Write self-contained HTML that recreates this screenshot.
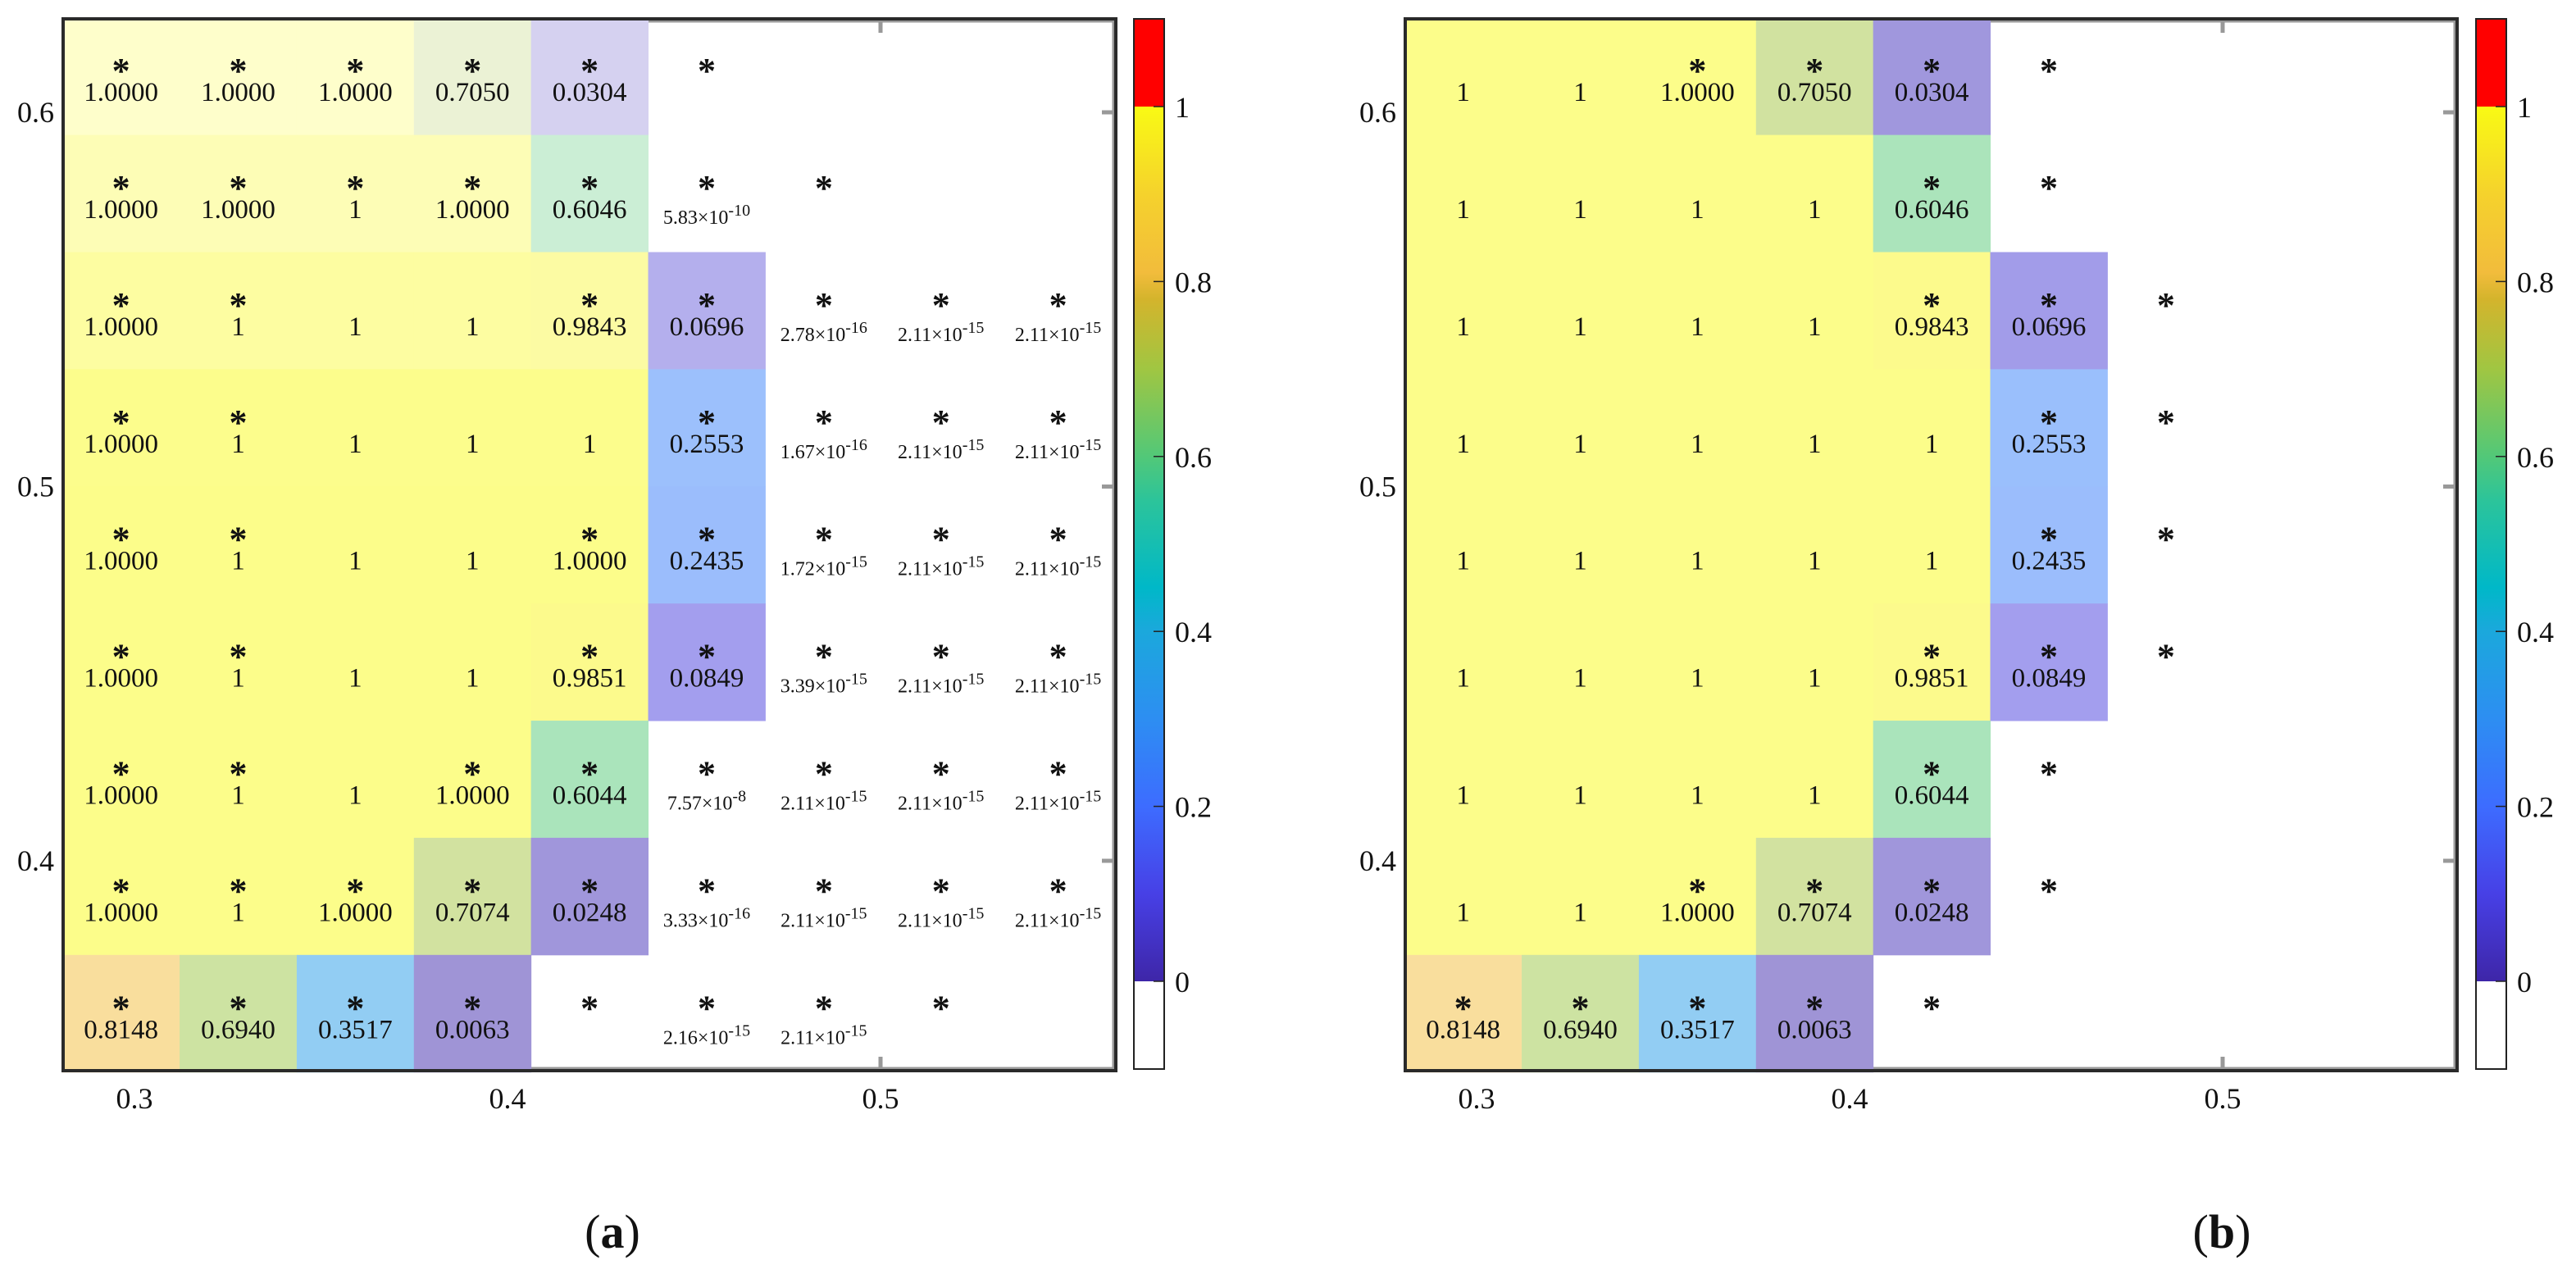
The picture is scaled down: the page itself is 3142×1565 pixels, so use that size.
<!DOCTYPE html>
<html><head><meta charset="utf-8"><style>
html,body{margin:0;padding:0;background:#fff;}
svg{display:block;}
text{font-family:"Liberation Serif","DejaVu Serif",serif;fill:#111;}
</style></head>
<body>
<svg id="fig" xmlns="http://www.w3.org/2000/svg" width="3142" height="1565" viewBox="0 0 3142 1565"></svg>
<script>
// ---- data ----
const xTicks = [0.3, 0.4, 0.5];
const yTicks = [0.4, 0.5, 0.6];
const cbTicks = [0, 0.2, 0.4, 0.6, 0.8, 1];
const cbTickLabels = ["0", "0.2", "0.4", "0.6", "0.8", "1"];
// panel (a): values (null = no cell), labels, stars; rows top (y high) to bottom
const valuesA = [
 [1,1,1,0.7050,0.0304,-1,null,null,null],
 [1,1,1,1,0.6046,5.83e-10,-1,null,null],
 [1,1,1,1,0.9843,0.0696,2.78e-16,2.11e-15,2.11e-15],
 [1,1,1,1,1,0.2553,1.67e-16,2.11e-15,2.11e-15],
 [1,1,1,1,1,0.2435,1.72e-15,2.11e-15,2.11e-15],
 [1,1,1,1,0.9851,0.0849,3.39e-15,2.11e-15,2.11e-15],
 [1,1,1,1,0.6044,7.57e-8,2.11e-15,2.11e-15,2.11e-15],
 [1,1,1,0.7074,0.0248,3.33e-16,2.11e-15,2.11e-15,2.11e-15],
 [0.8148,0.6940,0.3517,0.0063,-1,2.16e-15,2.11e-15,-1,null]
];
const labelsA = [
 ["1.0000","1.0000","1.0000","0.7050","0.0304","","","",""],
 ["1.0000","1.0000","1","1.0000","0.6046","5.83|-10","","",""],
 ["1.0000","1","1","1","0.9843","0.0696","2.78|-16","2.11|-15","2.11|-15"],
 ["1.0000","1","1","1","1","0.2553","1.67|-16","2.11|-15","2.11|-15"],
 ["1.0000","1","1","1","1.0000","0.2435","1.72|-15","2.11|-15","2.11|-15"],
 ["1.0000","1","1","1","0.9851","0.0849","3.39|-15","2.11|-15","2.11|-15"],
 ["1.0000","1","1","1.0000","0.6044","7.57|-8","2.11|-15","2.11|-15","2.11|-15"],
 ["1.0000","1","1.0000","0.7074","0.0248","3.33|-16","2.11|-15","2.11|-15","2.11|-15"],
 ["0.8148","0.6940","0.3517","0.0063","","2.16|-15","2.11|-15","",""]
];
const starsA = [
 [1,1,1,1,1,1,0,0,0],
 [1,1,1,1,1,1,1,0,0],
 [1,1,0,0,1,1,1,1,1],
 [1,1,0,0,0,1,1,1,1],
 [1,1,0,0,1,1,1,1,1],
 [1,1,0,0,1,1,1,1,1],
 [1,1,0,1,1,1,1,1,1],
 [1,1,1,1,1,1,1,1,1],
 [1,1,1,1,1,1,1,1,0]
];
const valuesB = [
 [1,1,1,0.7050,0.0304,-1,null,null,null],
 [1,1,1,1,0.6046,-1,null,null,null],
 [1,1,1,1,0.9843,0.0696,-1,null,null],
 [1,1,1,1,1,0.2553,-1,null,null],
 [1,1,1,1,1,0.2435,-1,null,null],
 [1,1,1,1,0.9851,0.0849,-1,null,null],
 [1,1,1,1,0.6044,-1,null,null,null],
 [1,1,1,0.7074,0.0248,-1,null,null,null],
 [0.8148,0.6940,0.3517,0.0063,-1,null,null,null,null]
];
const labelsB = [
 ["1","1","1.0000","0.7050","0.0304","","","",""],
 ["1","1","1","1","0.6046","","","",""],
 ["1","1","1","1","0.9843","0.0696","","",""],
 ["1","1","1","1","1","0.2553","","",""],
 ["1","1","1","1","1","0.2435","","",""],
 ["1","1","1","1","0.9851","0.0849","","",""],
 ["1","1","1","1","0.6044","","","",""],
 ["1","1","1.0000","0.7074","0.0248","","","",""],
 ["0.8148","0.6940","0.3517","0.0063","","","","",""]
];
const starsB = [
 [0,0,1,1,1,1,0,0,0],
 [0,0,0,0,1,1,0,0,0],
 [0,0,0,0,1,1,1,0,0],
 [0,0,0,0,0,1,1,0,0],
 [0,0,0,0,0,1,1,0,0],
 [0,0,0,0,1,1,1,0,0],
 [0,0,0,0,1,1,0,0,0],
 [0,0,1,1,1,1,0,0,0],
 [1,1,1,1,1,0,0,0,0]
];
const xCenters = [0.2964,0.3278,0.3592,0.3906,0.4220,0.4534,0.4848,0.5162,0.5476];
const yCenters = [0.6096,0.5783,0.5470,0.5157,0.4844,0.4531,0.4218,0.3905,0.3592];
const cmapStops = [0,0.1,0.2,0.3,0.4,0.45,0.55,0.6,0.7,0.78,0.81,0.9,1];
const cmapColors = [[62,38,168],[71,64,230],[61,108,255],[45,142,242],[27,168,220],[0,184,200],[44,196,154],[82,200,120],[160,198,66],[212,180,44],[242,188,60],[245,210,44],[249,250,20]];

const NS="http://www.w3.org/2000/svg";
const svg=document.getElementById('fig');
function mk(tag,attrs,parent){const e=document.createElementNS(NS,tag);for(const k in attrs)e.setAttribute(k,attrs[k]);(parent||svg).appendChild(e);return e;}
function cmap(v){
  if(v<=0)return cmapColors[0];
  if(v>=1)return cmapColors[cmapColors.length-1];
  for(let i=0;i<cmapStops.length-1;i++){
    if(v>=cmapStops[i]&&v<=cmapStops[i+1]){const t=(v-cmapStops[i])/(cmapStops[i+1]-cmapStops[i]);
      return cmapColors[i].map((c,j)=>Math.round(c+(cmapColors[i+1][j]-c)*t));}
  }
}
function blend(c,a){return 'rgb('+c.map(x=>Math.round(x*a+255*(1-a))).join(',')+')';}

function panel(cfg){
  const {x0,x1,y0,y1,vals,labs,stars,name,cbx,capx,cap,fade}=cfg;
  const W=x1-x0;
  const xmin=0.3-(88/4550), xmax=xmin+W/4550;
  const ymax=0.6+(137-22)/4565, ymin=ymax-(y1-y0)/4565;
  const sx=v=>x0+(v-xmin)/(xmax-xmin)*W;
  const sy=v=>y0+(ymax-v)/(ymax-ymin)*(y1-y0);
  const cw=(xCenters[1]-xCenters[0])/(xmax-xmin)*W;
  const ch=(yCenters[0]-yCenters[1])/(ymax-ymin)*(y1-y0);
  const g=mk('g',{});
  
  
  const fr=mk('rect',{x:x0+3,y:y0+3,width:W-6,height:y1-y0-6,fill:'#fff',stroke:'#999',"stroke-width":5},g);
  
  
  xTicks.forEach(t=>{
    const px=sx(t);
    const a=mk('line',{x1:px,y1:y0+4,x2:px,y2:y0+18,stroke:'#999','stroke-width':5},g);
    
    
    const b=mk('line',{x1:px,y1:y1-4,x2:px,y2:y1-18,stroke:'#999','stroke-width':5},g);
    
    
    const tl=mk('text',{x:px,y:y1+45,'font-size':36,'text-anchor':'middle'},g);
    tl.textContent=String(t);
    
    
  });
  yTicks.forEach(t=>{
    const py=sy(t);
    const a=mk('line',{x1:x0+4,y1:py,x2:x0+18,y2:py,stroke:'#999','stroke-width':5},g);
    
    
    const b=mk('line',{x1:x1-4,y1:py,x2:x1-18,y2:py,stroke:'#999','stroke-width':5},g);
    
    
    const tl=mk('text',{x:x0-10,y:py+12,'font-size':36,'text-anchor':'end'},g);
    tl.textContent=String(t);
    
    
  });
  for(let r=0;r<vals.length;r++){
    for(let c=0;c<vals[r].length;c++){
      const v=vals[r][c]; if(v===null)continue;
      const cx=sx(xCenters[c]), cy=sy(yCenters[r]);
      if(v>=1e-6){
        const a=fade?Math.min(0.5,0.22+0.09*r):0.5;
        const rc=mk('rect',{x:cx-cw/2,y:cy-ch/2,width:cw+0.5,height:ch+0.5,fill:blend(cmap(v),a)},g);
        
        
      }
      if(stars[r][c]){
        const st=mk('text',{x:cx,y:cy+8,'font-size':44,'text-anchor':'middle','font-weight':'bold'},g);
        st.textContent='*';
        
        
      }
      const L=labs[r][c];
      if(L){
        if(L.indexOf('|')>=0){
          const [m,e]=L.split('|');
          const t=mk('text',{x:cx,y:cy+37,'font-size':24,'text-anchor':'middle'},g);
          
          
          const s1=mk('tspan',{},t); s1.textContent=m+'\u00d710';
          const s2=mk('tspan',{dy:-10,'font-size':20},t); s2.textContent=e;
        } else {
          const t=mk('text',{x:cx,y:cy+30,'font-size':33,'text-anchor':'middle'},g);
          t.textContent=L;
          
          
        }
      }
    }
  }
  const bd=mk('rect',{x:x0+1,y:y0+1,width:W-2,height:y1-y0-2,fill:'none',stroke:'#2a2a2a','stroke-width':4},g);
  
  
  const cbTop=23, cb1=130, cb0=1197, cbBot=1304, cbw=37;
  const cv=v=>cb0-(cb0-cb1)*v;
  const cg=mk('g',{},g);
  
  
  const gid='grad'+name;
  const defs=mk('defs',{},cg);
  const lg=mk('linearGradient',{id:gid,x1:0,y1:1,x2:0,y2:0},defs);
  cmapStops.forEach((s,i)=>mk('stop',{offset:s,'stop-color':'rgb('+cmapColors[i].join(',')+')'},lg));
  mk('rect',{x:cbx,y:cbTop,width:cbw,height:cb1-cbTop,fill:'#ff0000'},cg);
  mk('rect',{x:cbx,y:cb1,width:cbw,height:cb0-cb1,fill:'url(#'+gid+')'},cg);
  mk('rect',{x:cbx,y:cb0,width:cbw,height:cbBot-cb0,fill:'#fff'},cg);
  mk('rect',{x:cbx,y:cbTop,width:cbw,height:cbBot-cbTop,fill:'none',stroke:'#222','stroke-width':2},cg);
  cbTicks.forEach((t,i)=>{
    const py=cv(t);
    mk('line',{x1:cbx+cbw-13,y1:py,x2:cbx+cbw,y2:py,stroke:'#222','stroke-width':1.5},cg);
    const tl=mk('text',{x:cbx+cbw+13,y:py+13,'font-size':36},cg);
    tl.textContent=cbTickLabels[i];
    
    
  });
  const cp=mk('text',{x:capx,y:1522,'font-size':58,'text-anchor':'middle'},g);
  
  
  const p1=mk('tspan',{},cp); p1.textContent='(';
  const p2=mk('tspan',{'font-weight':'bold'},cp); p2.textContent=cap;
  const p3=mk('tspan',{},cp); p3.textContent=')';
}
panel({x0:76,x1:1362,y0:22,y1:1307,vals:valuesA,labs:labelsA,stars:starsA,name:'panel-a',cbx:1383,capx:747,cap:'a',fade:true});
panel({x0:1713,x1:2998,y0:22,y1:1307,vals:valuesB,labs:labelsB,stars:starsB,name:'panel-b',cbx:3020,capx:2710,cap:'b',fade:false});
</script>
</body></html>
